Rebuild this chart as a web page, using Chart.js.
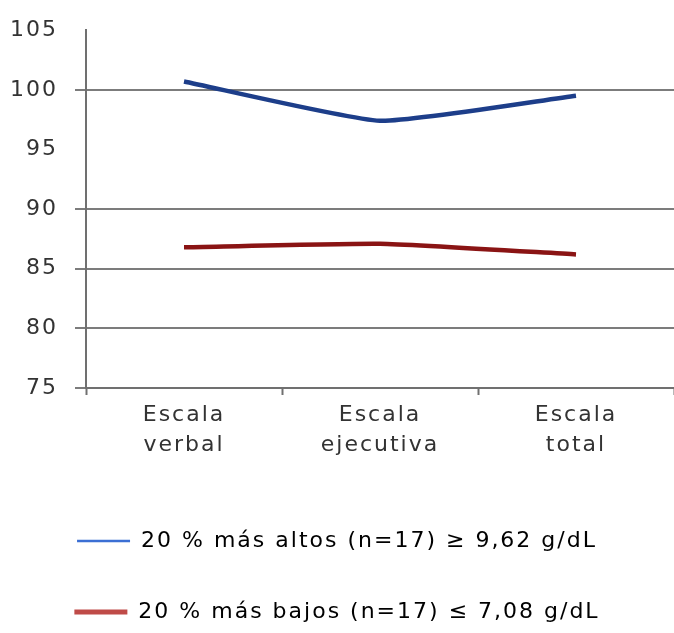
<!DOCTYPE html>
<html>
<head>
<meta charset="utf-8">
<script src="https://cdn.jsdelivr.net/npm/chart.js@4.4.1/dist/chart.umd.min.js"></script>
<style>
  html, body { margin: 0; padding: 0; background: #ffffff; }
  #wrap { width: 674px; height: 633px; }
</style>
</head>
<body>
<div id="wrap"><canvas id="c" width="674" height="633"></canvas></div>
<script>
// Categories (two-line labels) and series values
const categories = [["Escala", "verbal"], ["Escala", "ejecutiva"], ["Escala", "total"]];
const altosLabel = "20 % más altos (n=17) \u2265 9,62 g/dL";
const bajosLabel = "20 % más bajos (n=17) \u2264 7,08 g/dL";
const altosValues = [100.7, 97.4, 99.5];
const bajosValues = [86.8, 87.1, 86.2];
const yMin = 75, yMax = 105, yStep = 5;
const hiddenGridValues = [95, 105];

const FONT = "'DejaVu Sans', Verdana, sans-serif";
const FONT_SIZE = 22;
const legendColors = ["#3b6fd4", "#bf4b48"];
const legendWidths = [2.5, 5];

// Wider glyph spacing for every text the chart draws
const spacingPlugin = {
  id: "spacing",
  beforeInit(chart) { chart.ctx.letterSpacing = "2px"; },
  beforeUpdate(chart) { chart.ctx.letterSpacing = "2px"; },
  beforeDraw(chart) { chart.ctx.letterSpacing = "2px"; }
};

const hideSome = (ctx, color) =>
  hiddenGridValues.includes(ctx.tick && ctx.tick.value) ? "rgba(0,0,0,0)" : color;

new Chart(document.getElementById("c"), {
  type: "line",
  plugins: [spacingPlugin],
  data: {
    labels: categories,
    datasets: [
      {
        label: altosLabel,
        data: altosValues,
        borderColor: "#1d3e8a",
        borderWidth: 4.5,
        pointRadius: 0,
        tension: 0.15,
        fill: false
      },
      {
        label: bajosLabel,
        data: bajosValues,
        borderColor: "#8a1414",
        borderWidth: 4.5,
        pointRadius: 0,
        tension: 0.15,
        fill: false
      }
    ]
  },
  options: {
    responsive: false,
    animation: false,
    layout: { padding: { left: 0, right: 0, top: 22, bottom: 0 } },
    plugins: {
      tooltip: { enabled: false },
      legend: {
        position: "bottom",
        align: "center",
        maxHeight: 152,
        labels: {
          font: { family: FONT, size: FONT_SIZE },
          color: "#1a1a1a",
          usePointStyle: true,
          pointStyleWidth: 53,
          padding: 49,
          generateLabels(chart) {
            return chart.data.datasets.map((ds, i) => ({
              text: ds.label,
              pointStyle: "line",
              strokeStyle: legendColors[i],
              fillStyle: legendColors[i],
              lineWidth: legendWidths[i],
              hidden: false,
              datasetIndex: i
            }));
          }
        }
      }
    },
    scales: {
      x: {
        offset: true,
        afterFit(scale) { scale.height = 93; },
        grid: {
          offset: true,
          drawOnChartArea: false,
          drawTicks: true,
          tickLength: 7,
          tickColor: "#707070",
          tickWidth: 2
        },
        border: { color: "#707070", width: 2 },
        ticks: {
          font: { family: FONT, size: FONT_SIZE, lineHeight: 1.36 },
          color: "#333333",
          padding: 5
        }
      },
      y: {
        min: yMin,
        max: yMax,
        afterFit(scale) { scale.width = 86; },
        ticks: {
          stepSize: yStep,
          font: { family: FONT, size: FONT_SIZE },
          color: "#333333",
          padding: 17
        },
        grid: {
          color: (ctx) => hideSome(ctx, "#7c7c7c"),
          tickColor: (ctx) => hideSome(ctx, "#7c7c7c"),
          lineWidth: 2,
          tickWidth: 2,
          tickLength: 11
        },
        border: { color: "#707070", width: 2 }
      }
    }
  }
});
</script>
</body>
</html>
